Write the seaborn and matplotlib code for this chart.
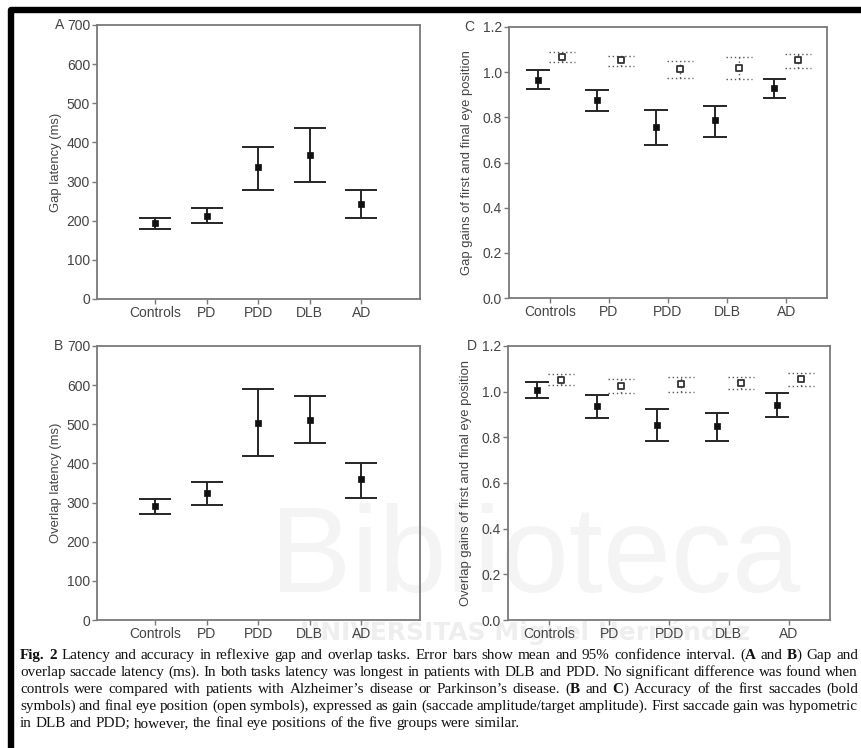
import numpy as np
import matplotlib
matplotlib.use("Agg")
import matplotlib.pyplot as plt
import seaborn as sns
from matplotlib.lines import Line2D

groups = ["Controls", "PD", "PDD", "DLB", "AD"]

# A: gap latency (ms), mean and 95% CI
gap_latency = [194, 213, 336, 368, 243]
gap_latency_lo = [179, 194, 278, 298, 206]
gap_latency_hi = [206, 232, 389, 436, 278]

# B: overlap latency (ms)
overlap_latency = [291, 325, 504, 510, 359]
overlap_latency_lo = [272, 294, 419, 451, 312]
overlap_latency_hi = [309, 353, 589, 571, 401]

# C: gap gains, first saccade (bold) and final eye position (open)
gap_first = [0.967, 0.877, 0.756, 0.787, 0.930]
gap_first_lo = [0.925, 0.828, 0.679, 0.711, 0.886]
gap_first_hi = [1.008, 0.921, 0.832, 0.852, 0.970]
gap_final = [1.067, 1.052, 1.013, 1.017, 1.052]
gap_final_lo = [1.044, 1.029, 0.974, 0.970, 1.018]
gap_final_hi = [1.091, 1.073, 1.048, 1.066, 1.082]

# D: overlap gains
overlap_first = [1.009, 0.936, 0.856, 0.849, 0.941]
overlap_first_lo = [0.971, 0.884, 0.786, 0.786, 0.887]
overlap_first_hi = [1.043, 0.984, 0.926, 0.907, 0.994]
overlap_final = [1.053, 1.024, 1.032, 1.040, 1.054]
overlap_final_lo = [1.028, 0.994, 0.999, 1.012, 1.024]
overlap_final_hi = [1.078, 1.057, 1.064, 1.064, 1.083]

latency_ticks = [0, 100, 200, 300, 400, 500, 600, 700]
gain_ticks = [0.0, 0.2, 0.4, 0.6, 0.8, 1.0, 1.2]

caption_lines = [
    "*Fig. 2* Latency and accuracy in reflexive gap and overlap tasks. Error bars show mean and 95% confidence interval. (*A* and *B*) Gap and",
    "overlap saccade latency (ms). In both tasks latency was longest in patients with DLB and PDD. No significant difference was found when",
    "controls were compared with patients with Alzheimer\u2019s disease or Parkinson\u2019s disease. (*B* and *C*) Accuracy of the first saccades (bold",
    "symbols) and final eye position (open symbols), expressed as gain (saccade amplitude/target amplitude). First saccade gain was hypometric",
    "in DLB and PDD; however, the final eye positions of the five groups were similar.",
]

sns.set_theme(style="white")
plt.rcParams['font.family'] = ['Liberation Sans', 'DejaVu Sans']

W, H = 861, 748
fig = plt.figure(figsize=(W / 100, H / 100), dpi=100)
fig.patch.set_facecolor("white")

BAR = "#262626"
SPINE = "#7a7a7a"
TICKTXT = "#444444"


def px_axes(left, top, right, bottom):
    return fig.add_axes([left / W, 1 - bottom / H, (right - left) / W, (bottom - top) / H])


def draw_ci(ax, x, mean, lo, hi, capw, open_marker=False):
    x = np.asarray(x, dtype=float)
    ls = (0, (1, 2)) if open_marker else "-"
    col = "#555555" if open_marker else BAR
    lw = 1.0 if open_marker else 1.4
    ax.vlines(x, lo, hi, colors=col, linewidth=lw, linestyles=ls, zorder=2)
    ax.hlines(lo, x - capw / 2, x + capw / 2, colors=col, linewidth=lw, linestyles=ls, zorder=2)
    ax.hlines(hi, x - capw / 2, x + capw / 2, colors=col, linewidth=lw, linestyles=ls, zorder=2)
    if open_marker:
        sns.scatterplot(x=x, y=mean, ax=ax, marker="s", s=18, color="white",
                        edgecolor="#333333", linewidth=1.3, zorder=3)
    else:
        sns.scatterplot(x=x, y=mean, ax=ax, marker="s", s=22, color="#111111",
                        edgecolor="#111111", linewidth=0.5, zorder=3)


def style_axes(ax, ticks, fmt, xlim, ylabel, letter, lab_x, let_x):
    ax.set_facecolor("none")
    ax.set_xlim(*xlim)
    ax.set_ylim(ticks[0], ticks[-1])
    ax.set_yticks(ticks)
    ax.set_yticklabels([fmt.format(t) for t in ticks])
    ax.set_xticks(range(len(groups)))
    ax.set_xticklabels(groups)
    for s in ax.spines.values():
        s.set_color(SPINE)
        s.set_linewidth(1.3)
    ax.tick_params(axis="both", direction="out", length=3.5, width=1.0, color=SPINE,
                   labelcolor=TICKTXT, labelsize=10, pad=1.5, left=True, bottom=True)
    ax.set_ylabel(ylabel, fontsize=9.4, color=TICKTXT)
    ax.yaxis.set_label_coords(lab_x, 0.5)
    ax.text(let_x, 1.0, letter, transform=ax.transAxes, ha="center", va="center",
            fontsize=10, color=TICKTXT)


# faint watermark, drawn underneath the (transparent) axes
fig.text(535 / W, 1 - 592 / H, "Biblioteca", fontsize=88, color="#f4f4f4",
         ha="center", va="baseline", zorder=-1)
fig.text(525 / W, 1 - 640 / H, "UNIVERSITAS Miguel Hern\u00e1ndez", fontsize=18,
         fontweight="bold", color="#eeeeee", ha="center", va="baseline", zorder=-1,
         family=["DejaVu Sans"])

pos = np.arange(len(groups))

axA = px_axes(97, 25, 420, 299)
draw_ci(axA, pos, gap_latency, gap_latency_lo, gap_latency_hi, 0.62)
style_axes(axA, latency_ticks, "{:d}", (-1.13, 5.14), "Gap latency (ms)", "A", -0.108, -0.115)

axB = px_axes(97, 346, 420, 620)
draw_ci(axB, pos, overlap_latency, overlap_latency_lo, overlap_latency_hi, 0.62)
style_axes(axB, latency_ticks, "{:d}", (-1.13, 5.14), "Overlap latency (ms)", "B", -0.108, -0.12)

axC = px_axes(509, 27, 827, 298)
draw_ci(axC, pos - 0.2, gap_first, gap_first_lo, gap_first_hi, 0.4)
draw_ci(axC, pos + 0.2, gap_final, gap_final_lo, gap_final_hi, 0.44, open_marker=True)
style_axes(axC, gain_ticks, "{:.1f}", (-0.69, 4.69),
           "Gap gains of first and final eye position", "C", -0.113, -0.126)

axD = px_axes(508, 346, 830, 620)
draw_ci(axD, pos - 0.2, overlap_first, overlap_first_lo, overlap_first_hi, 0.4)
draw_ci(axD, pos + 0.2, overlap_final, overlap_final_lo, overlap_final_hi, 0.44, open_marker=True)
style_axes(axD, gain_ticks, "{:.1f}", (-0.69, 4.69),
           "Overlap gains of first and final eye position", "D", -0.113, -0.112)

# black frame of the screenshot (top and left)
fig.add_artist(Line2D([11 / W, 11 / W, 1.0], [0.0, 1 - 10 / H, 1 - 10 / H],
                      transform=fig.transFigure, color="black", linewidth=4.6,
                      solid_joinstyle="round"))

# justified caption, word by word
fig.canvas.draw()
renderer = fig.canvas.get_renderer()
cap_font = dict(family=["Liberation Serif", "DejaVu Serif"], size=10.9, color="#111111")


def text_width(s, bold):
    t = fig.text(0, 0, s, fontweight="bold" if bold else "normal", **cap_font)
    w = t.get_window_extent(renderer).width
    t.remove()
    return w


space_w = text_width("x x", False) - text_width("xx", False)
x_left, x_right = 20, 858
baselines = [659, 676, 693, 710, 727]
for li, (line, base) in enumerate(zip(caption_lines, baselines)):
    bold = False
    words = []
    for word in line.split(" "):
        parts = []
        for i, chunk in enumerate(word.split("*")):
            if i > 0:
                bold = not bold
            if chunk:
                parts.append((chunk, bold))
        words.append(parts)
    widths = [[text_width(c, b) for c, b in parts] for parts in words]
    total = sum(sum(w) for w in widths)
    if li < len(caption_lines) - 1:
        gap = (x_right - x_left - total) / (len(words) - 1)
    else:
        gap = space_w
    x = x_left
    for parts, ws in zip(words, widths):
        for (c, b), w in zip(parts, ws):
            fig.text(x / W, 1 - base / H, c, fontweight="bold" if b else "normal",
                     ha="left", va="baseline", **cap_font)
            x += w
        x += gap

fig.savefig("out.png", dpi=100)
